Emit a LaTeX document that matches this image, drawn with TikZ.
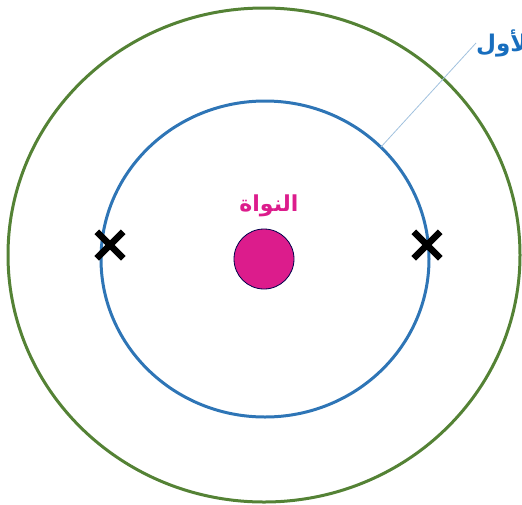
\documentclass[tikz,border=0pt]{standalone}
\usepackage{fontspec}
\newfontfamily\arabicfont[Script=Arabic]{DejaVu Sans}
\TeXXeTstate=1
\usetikzlibrary{shapes.misc,shapes.geometric}

\definecolor{levelgreen}{RGB}{84,130,53}
\definecolor{levelblue}{RGB}{46,117,182}
\definecolor{nucleuspink}{RGB}{220,28,140}
\definecolor{textblue}{RGB}{24,110,190}

\begin{document}
\begin{tikzpicture}[x=1pt,y=-1pt,
  orbit/.style={ellipse,draw,line width=3pt,inner sep=0pt},
  electron/.style={cross out,draw,line width=6.5pt,minimum size=20pt,inner sep=0pt},
  pointer/.style={draw=levelblue!45,line width=0.8pt}]
  \useasboundingbox (0,0) rectangle (522,504);

  \node[orbit,draw=levelgreen,minimum width=512pt,minimum height=494pt] (outer) at (264,255) {};
  \node[orbit,draw=levelblue,minimum width=328pt,minimum height=316pt] (inner) at (265,259) {};
  \node[circle,fill=nucleuspink,draw=black!70!blue,line width=0.8pt,minimum size=60pt] (nucleus) at (264,259) {};
  \node[text=nucleuspink,font=\arabicfont\bfseries\fontsize{22}{26}\selectfont] (nucleuslabel) at (269,206) {\beginR النواة\endR};

  \node[electron] (left) at (110,245) {};
  \node[electron] (right) at (427,245) {};

  \node[anchor=west,inner sep=0pt,text=textblue,font=\arabicfont\bfseries\fontsize{23}{27}\selectfont] (level) at (476,43) {\beginR الأول\endR};
  \coordinate (onorbit) at (381,147);
  \draw[pointer] (onorbit) -- (level.west);
\end{tikzpicture}
\end{document}
